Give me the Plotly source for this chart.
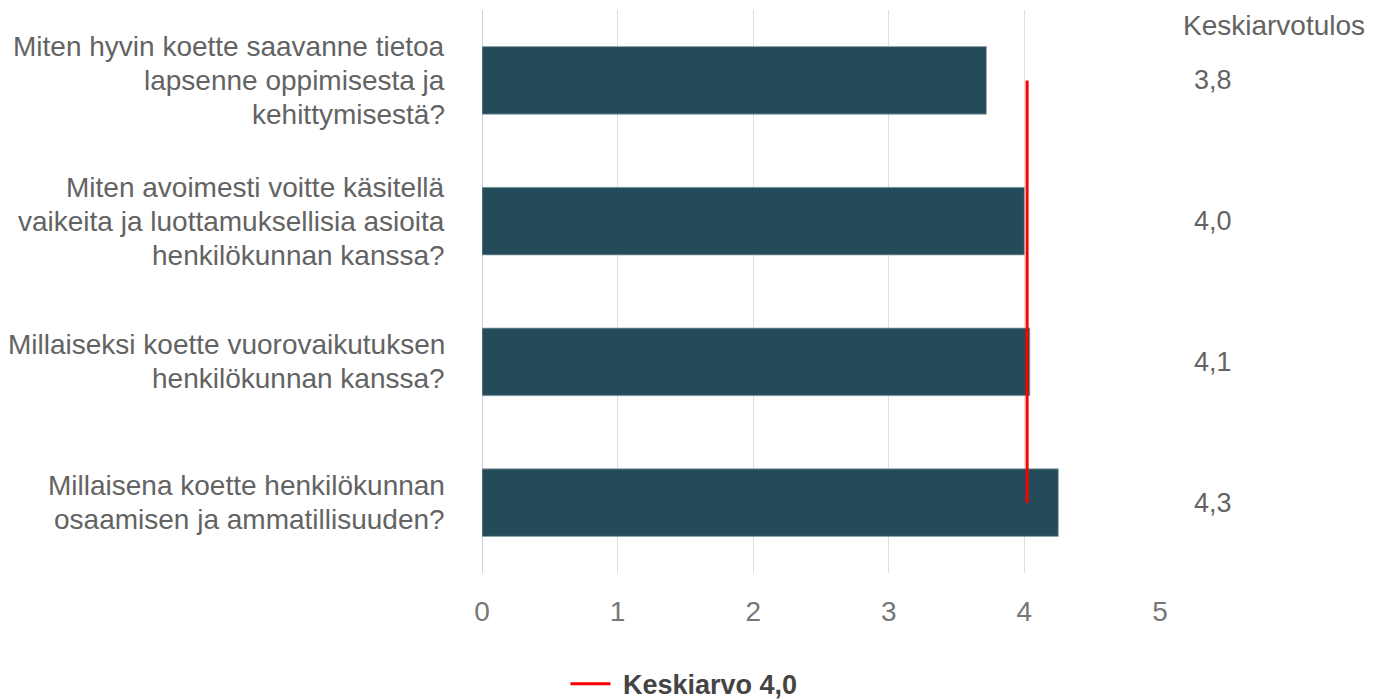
import plotly.graph_objects as go

categories = [
    "Miten hyvin koette saavanne tietoa<br>lapsenne oppimisesta ja<br>kehittymisestä?",
    "Miten avoimesti voitte käsitellä<br>vaikeita ja luottamuksellisia asioita<br>henkilökunnan kanssa?",
    "Millaiseksi koette vuorovaikutuksen<br>henkilökunnan kanssa?",
    "Millaisena koette henkilökunnan<br>osaamisen ja ammatillisuuden?",
]
values = [3.72, 4.00, 4.04, 4.25]
value_labels = ["3,8", "4,0", "4,1", "4,3"]
mean_value = 4.02
mean_name = "Keskiarvo 4,0"
column_title = "Keskiarvotulos"
x_ticks = [0, 1, 2, 3, 4, 5]

FONT = "Liberation Sans, Arial, sans-serif"
LINE_PX = 34

fig = go.Figure()
fig.add_trace(go.Bar(
    x=values, y=categories, orientation="h", width=0.48,
    marker=dict(color="#234b59", line=dict(color="#8fa5ad", width=0.8)),
    showlegend=False, hoverinfo="x",
))
fig.add_trace(go.Scatter(
    x=[mean_value, mean_value], y=[categories[0], categories[-1]],
    mode="lines", line=dict(color="#ff0000", width=3),
    name="<b>\u00a0" + mean_name + "</b>",
))

annotations = []
for cat in categories:
    lines = cat.split("<br>")
    n = len(lines)
    for k, ln in enumerate(lines):
        annotations.append(dict(
            xref="paper", yref="y", x=0, y=cat, text=ln, showarrow=False,
            xanchor="right", yanchor="middle", xshift=-35,
            yshift=LINE_PX * ((n - 1) / 2 - k),
            font=dict(family=FONT, size=28, color="#636363"),
        ))
for cat, lab in zip(categories, value_labels):
    annotations.append(dict(
        xref="paper", yref="y", x=1, y=cat, text=lab, showarrow=False,
        xanchor="center", yanchor="middle", xshift=53,
        font=dict(family=FONT, size=27, color="#636363"),
    ))
annotations.append(dict(
    xref="paper", yref="paper", x=1, y=1, text=column_title, showarrow=False,
    xanchor="center", yanchor="middle", xshift=114, yshift=-15,
    font=dict(family=FONT, size=28, color="#636363"),
))

fig.update_layout(
    width=1381, height=700,
    margin=dict(l=474, r=229, t=2, b=135),
    paper_bgcolor="white", plot_bgcolor="white",
    font=dict(family=FONT, size=28, color="#636363"),
    bargap=0.5,
    xaxis=dict(
        range=[0, 5], tickvals=x_ticks, showgrid=True, gridcolor="#dedede", gridwidth=1,
        zeroline=True, zerolinecolor="#c5cfe6", zerolinewidth=1,
        tickfont=dict(family=FONT, size=28, color="#777777"),
        ticks="outside", ticklen=13, tickcolor="rgba(0,0,0,0)",
        showline=False, fixedrange=True,
    ),
    yaxis=dict(
        autorange="reversed", showticklabels=False, showgrid=False,
        showline=False, zeroline=False, fixedrange=True,
    ),
    legend=dict(
        orientation="h", xref="container", yref="container",
        x=0.4895, xanchor="center", y=0.034, yanchor="middle",
        font=dict(family=FONT, size=27, color="#444444"),
        itemwidth=40,
    ),
    annotations=annotations,
)

fig.write_html("out.html")
